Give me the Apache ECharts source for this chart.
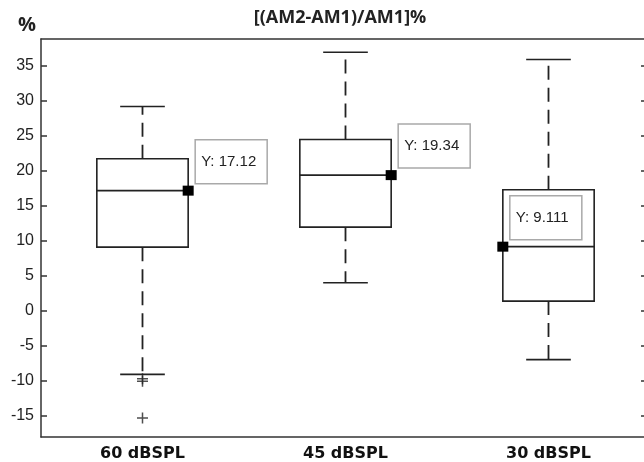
<!DOCTYPE html>
<html>
<head>
<meta charset="utf-8">
<script src="https://cdn.jsdelivr.net/npm/echarts@6/dist/echarts.min.js"></script>
<style>
  html, body { margin: 0; padding: 0; background: #fff; }
  #main { width: 644px; height: 462px; }
</style>
</head>
<body>
<div id="main"></div>
<script>
const categories = ["60 dBSPL", "45 dBSPL", "30 dBSPL"];
const lowerWhisker = [-9.14, 3.95, -7.04];
const q1 = [9.04, 11.9, 1.33];
const median = [17.12, 19.34, 9.111];
const q3 = [21.67, 24.43, 17.24];
const upperWhisker = [29.14, 36.9, 35.86];
const outliers = [[0, -9.76], [0, -10.14], [0, -15.4]];
const tipValues = [17.12, 19.34, 9.111];
const tipSide = [1, 1, -1];
const yTicks = [-15, -10, -5, 0, 5, 10, 15, 20, 25, 30, 35];

const lineColor = "#222";
const chart = echarts.init(document.getElementById("main"), null, { renderer: "canvas" });

function renderBox(params, api) {
  const i = api.value(0);
  const band = api.size([1, 0])[0];
  const half = band * 0.225;
  const capHalf = band * 0.11;
  const x = api.coord([i, 0])[0];
  const y = v => api.coord([i, v])[1];
  const solid = { stroke: lineColor, lineWidth: 1.6, fill: null };
  const dashed = { stroke: lineColor, lineWidth: 1.8, lineDash: [14, 8], fill: null };
  const yLo = y(api.value(1)), yQ1 = y(api.value(2)), yMed = y(api.value(3));
  const yQ3 = y(api.value(4)), yHi = y(api.value(5));
  return {
    type: "group",
    children: [
      { type: "rect", shape: { x: x - half, y: yQ3, width: half * 2, height: yQ1 - yQ3 }, style: solid },
      { type: "line", shape: { x1: x - half, y1: yMed, x2: x + half, y2: yMed }, style: solid },
      { type: "line", shape: { x1: x, y1: yQ3, x2: x, y2: yHi }, style: dashed },
      { type: "line", shape: { x1: x, y1: yQ1, x2: x, y2: yLo }, style: dashed },
      { type: "line", shape: { x1: x - capHalf, y1: yHi, x2: x + capHalf, y2: yHi }, style: solid },
      { type: "line", shape: { x1: x - capHalf, y1: yLo, x2: x + capHalf, y2: yLo }, style: solid }
    ]
  };
}

function renderTip(params, api) {
  const i = api.value(0);
  const v = api.value(1);
  const side = api.value(2);
  const band = api.size([1, 0])[0];
  const p = api.coord([i, v]);
  const mx = p[0] + side * band * 0.225;
  const my = p[1];
  return {
    type: "group",
    children: [
      { type: "rect", shape: { x: mx + 7, y: my - 51, width: 72, height: 44 },
        style: { fill: "#fff", stroke: "#a9a9a9", lineWidth: 1.5 } },
      { type: "text", x: mx + 13, y: my - 29,
        style: { text: "Y: " + tipValues[i], fill: "#222", font: "15px 'Liberation Sans', Arial, sans-serif",
                 verticalAlign: "middle" } },
      { type: "rect", shape: { x: mx - 5.5, y: my - 5, width: 11, height: 10 }, style: { fill: "#000" } }
    ]
  };
}

const option = {
  animation: false,
  backgroundColor: "#fff",
  title: [
    {
      text: "[(AM2-AM1)/AM1]%",
      left: 335, top: 4, textAlign: "center",
      textStyle: { fontFamily: "Open Sans", fontWeight: "bold", fontSize: 18, color: "#222" }
    },
    {
      text: "%",
      left: 13, top: 10,
      textStyle: { fontFamily: "Open Sans", fontWeight: "bold", fontSize: 20, color: "#222" }
    }
  ],
  grid: { left: 41, right: -6, top: 39, bottom: 25, outerBoundsMode: "none" },
  xAxis: [
    {
      type: "category", data: categories, position: "bottom",
      axisLine: { onZero: false, lineStyle: { color: "#333", width: 1.5 } },
      axisTick: { inside: true, length: 7, alignWithLabel: true, lineStyle: { color: "#333", width: 1.5 } },
      axisLabel: { fontFamily: "DejaVu Sans", fontWeight: "bold", fontSize: 16, color: "#111", margin: 9 },
      splitLine: { show: false }
    },
    {
      type: "category", data: categories, position: "top",
      axisLine: { onZero: false, lineStyle: { color: "#333", width: 1.5 } },
      axisTick: { inside: true, length: 7, alignWithLabel: true, lineStyle: { color: "#333", width: 1.5 } },
      axisLabel: { show: false }
    }
  ],
  yAxis: [
    {
      type: "value", min: -18.1, max: 38.8, position: "left",
      axisLine: { show: true, onZero: false, lineStyle: { color: "#333", width: 1.5 } },
      axisTick: { show: true, inside: true, length: 6, customValues: yTicks, lineStyle: { color: "#333", width: 1.5 } },
      axisLabel: { customValues: yTicks, fontFamily: "Liberation Sans", fontSize: 16, color: "#222", margin: 7 },
      splitLine: { show: false }
    },
    {
      type: "value", min: -18.1, max: 38.8, position: "right",
      axisLine: { show: true, onZero: false, lineStyle: { color: "#333", width: 1.5 } },
      axisTick: { show: true, inside: true, length: 9, customValues: yTicks, lineStyle: { color: "#333", width: 1.5 } },
      axisLabel: { show: false },
      splitLine: { show: false }
    }
  ],
  series: [
    {
      type: "custom",
      renderItem: renderBox,
      encode: { x: 0, y: [1, 2, 3, 4, 5] },
      data: categories.map((c, i) => [i, lowerWhisker[i], q1[i], median[i], q3[i], upperWhisker[i]]),
      z: 2
    },
    {
      type: "scatter",
      symbol: "path://M0,6L12,6M6,0L6,12",
      symbolSize: 11,
      itemStyle: { color: "none", borderColor: lineColor, borderWidth: 1.5 },
      data: outliers,
      z: 3
    },
    {
      type: "custom",
      renderItem: renderTip,
      encode: { x: 0, y: 1 },
      data: categories.map((c, i) => [i, tipValues[i], tipSide[i]]),
      z: 4
    }
  ]
};

chart.setOption(option);
</script>
</body>
</html>
